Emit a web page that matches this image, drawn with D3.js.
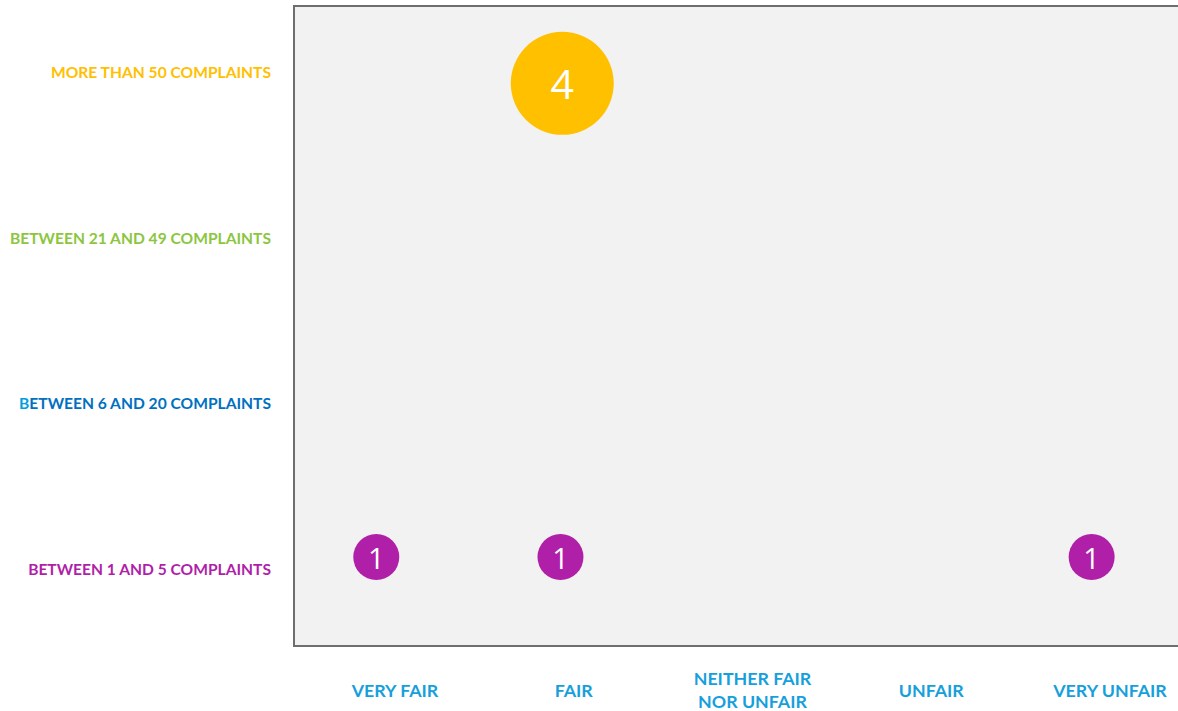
<!DOCTYPE html>
<html>
<head>
<meta charset="utf-8">
<script src="https://cdn.jsdelivr.net/npm/d3@7"></script>
<style>
  html, body { margin: 0; padding: 0; background: #ffffff; }
  svg { display: block; }
</style>
</head>
<body>
<svg id="chart" width="1178" height="711"></svg>
<script>
// Perceived fairness of the process vs. number of complaints received
const fairness = ["VERY FAIR", "FAIR", "NEITHER FAIR\nNOR UNFAIR", "UNFAIR", "VERY UNFAIR"];
const complaintBands = [
  "BETWEEN 1 AND 5 COMPLAINTS",
  "BETWEEN 6 AND 20 COMPLAINTS",
  "BETWEEN 21 AND 49 COMPLAINTS",
  "MORE THAN 50 COMPLAINTS"
];
const bandColors = ["#B01FA8", "#0070C0", "#8CC63F", "#FFC000"];

// Bubble series: position on the fairness scale (1-5), complaint band (1-4), respondent count
const bubbleFairness = [1, 2.03, 2.04, 5];
const bubbleBand     = [1, 1, 4, 1];
const bubbleCount    = [1, 1, 4, 1];

const bubbles = bubbleCount.map((c, i) => ({ x: bubbleFairness[i], y: bubbleBand[i], n: c }));

const svg = d3.select("#chart");
const plot = { left: 294, top: 6, right: 1190, bottom: 646 };

const x = d3.scaleLinear().domain([0.54, 5.55]).range([plot.left, plot.right]);
const y = d3.scaleLinear().domain([0.437, 4.49]).range([plot.bottom, plot.top]);
const r = d3.scaleSqrt().domain([1, 4]).range([23, 51.5]);
const numSize = d3.scaleLinear().domain([1, 4]).range([29, 41]);

// Category label scales
const xLab = d3.scalePoint().domain(fairness).range([395, 1110]);
const yLab = d3.scalePoint().domain(complaintBands).range([569, 72]);

// Plot background with border on left/top/bottom
svg.append("rect")
  .attr("x", plot.left).attr("y", plot.top)
  .attr("width", plot.right - plot.left).attr("height", plot.bottom - plot.top)
  .attr("fill", "#F2F2F2");
svg.append("path")
  .attr("d", `M${plot.right},${plot.top}H${plot.left}V${plot.bottom}H${plot.right}`)
  .attr("fill", "none").attr("stroke", "#6E6E6E").attr("stroke-width", 2);

// Bubbles
const g = svg.append("g");
g.selectAll("circle").data(bubbles).join("circle")
  .attr("cx", d => x(d.x)).attr("cy", d => y(d.y)).attr("r", d => r(d.n))
  .attr("fill", d => bandColors[d.y - 1]);
g.selectAll("text").data(bubbles).join("text")
  .attr("x", d => x(d.x)).attr("y", d => y(d.y))
  .attr("text-anchor", "middle").attr("dominant-baseline", "central")
  .attr("font-family", "Open Sans, sans-serif").attr("font-weight", 400)
  .attr("font-size", d => numSize(d.n))
  .attr("fill", "#ffffff")
  .text(d => d.n);

// Y category labels
const yl = svg.append("g").selectAll("text").data(complaintBands).join("text")
  .attr("x", 271).attr("y", d => yLab(d))
  .attr("text-anchor", "end").attr("dominant-baseline", "central")
  .attr("font-family", "Lato, sans-serif").attr("font-weight", 700)
  .attr("font-size", 15.6)
  .attr("fill", (d, i) => bandColors[i]);
yl.each(function (d, i) {
  const t = d3.select(this);
  if (i === 1) {
    t.append("tspan").attr("fill", "#00A0E0").text(d[0]);
    t.append("tspan").text(d.slice(1));
  } else {
    t.text(d);
  }
});

// X category labels
svg.append("g").selectAll("text").data(fairness).join("text")
  .attr("x", d => xLab(d))
  .attr("text-anchor", "middle")
  .attr("font-family", "Lato, sans-serif").attr("font-weight", 700)
  .attr("font-size", 17.8)
  .attr("fill", "#16A0DB")
  .each(function (d) {
    const lines = d.split("\n");
    const t = d3.select(this);
    const y0 = 689.5 - (lines.length - 1) * 11.5;
    lines.forEach((ln, k) => {
      t.append("tspan").attr("x", xLab(d)).attr("y", y0 + k * 23)
        .attr("dominant-baseline", "central").text(ln);
    });
  });
</script>
</body>
</html>
